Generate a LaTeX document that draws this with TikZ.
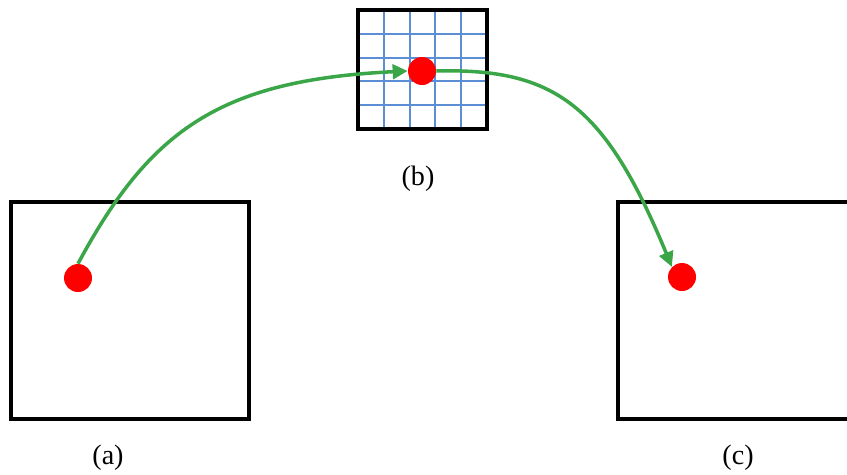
\documentclass[tikz,border=0pt]{standalone}
\usepackage{fontspec}
\setmainfont{Liberation Serif}
\usepackage{xcolor}
\usetikzlibrary{positioning,arrows.meta}

\definecolor{pathgreen}{RGB}{58,166,72}
\definecolor{gridblue}{RGB}{92,142,214}

\begin{document}
\begin{tikzpicture}[x=0.02cm,y=-0.02cm,
 frame/.style={draw=black,line width=2pt},
 cell/.style={draw=gridblue,line width=1.1pt},
 atom/.style={circle,fill=red,minimum size=5.6mm,inner sep=0pt},
 hop/.style={-{Triangle[length=3mm,width=2.9mm]},pathgreen,line width=2pt},
 lab/.style={font=\fontsize{16}{19}\selectfont}
]
\path[use as bounding box,clip] (0,0) rectangle (847,474);

% grid in the middle
\foreach \i in {1,...,4} {
 \draw[cell] (358+25.8*\i,10)--(358+25.8*\i,129);
 \draw[cell] (358,10+23.8*\i)--(487,10+23.8*\i);
}
\draw[frame] (358,10) rectangle (487,129);

\draw[frame] (11,202) rectangle (249,419);
\draw[frame] (618,202) rectangle (880,419);

\node[atom] (dota) at (78,278) {};
\node[atom] (dotb) at (422,71) {};
\node[atom] (dotc) at (682,277) {};

\draw[hop] (dota.north) .. controls (150,130) and (220,80) .. (dotb.west);
\draw[hop] (dotb.east) .. controls (555,68) and (605,105) .. (dotc.north west);

\node[lab] (laba) at (108,458) {(a)};
\node[lab] (labb) at (418,179) {(b)};
\node[lab] (labc) at (738,458) {(c)};
\end{tikzpicture}
\end{document}
